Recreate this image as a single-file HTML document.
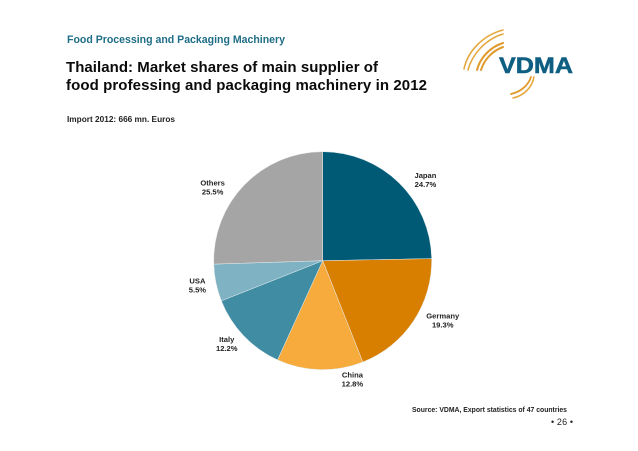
<!DOCTYPE html>
<html lang="en">
<head>
<meta charset="utf-8">
<title>Thailand: Market shares</title>
<style>
html,body{margin:0;padding:0;background:#fff;width:638px;height:451px;overflow:hidden}
svg{display:block;font-family:"Liberation Sans",sans-serif}
</style>
</head>
<body>
<svg id="chart" width="638" height="451" viewBox="0 0 638 451" xmlns="http://www.w3.org/2000/svg">
  <rect width="638" height="451" fill="#ffffff"/>
  <text x="67" y="43" font-size="10.7" font-weight="bold" fill="#1f6d86" textLength="218" lengthAdjust="spacingAndGlyphs">Food Processing and Packaging Machinery</text>
  <text x="66" y="72" font-size="15" font-weight="bold" fill="#0b0b0b" textLength="312" lengthAdjust="spacing">Thailand: Market shares of main supplier of</text>
  <text x="66" y="90" font-size="15" font-weight="bold" fill="#0b0b0b" textLength="361" lengthAdjust="spacing">food professing and packaging machinery in 2012</text>
  <text x="67" y="122" font-size="8.2" font-weight="bold" fill="#222222" textLength="108" lengthAdjust="spacingAndGlyphs">Import 2012: 666 mn. Euros</text>

  <g id="logo" fill="none" stroke-linecap="round">
    <path d="M464 69 C468 50 484 35 503 30" stroke="#e6a93f" stroke-width="1.6"/>
    <path d="M468 70 C472 54 486 39 503 34" stroke="#e6a93f" stroke-width="1.6"/>
    <path d="M477 70 C480 58 490 47 503 43" stroke="#e09a2c" stroke-width="2"/>
    <path d="M481 70 C484 60 492 51 503 47" stroke="#e09a2c" stroke-width="2"/>
    <path d="M511 94 C520 92 528 86 531 77" stroke="#e09a2c" stroke-width="1.8"/>
    <path d="M513 98 C523 96 532 88 534 77" stroke="#e6a93f" stroke-width="1.6"/>
    <text x="499" y="73" font-size="22" font-weight="bold" fill="#0f5f82" stroke="#0f5f82" stroke-width="0.5" textLength="74" lengthAdjust="spacingAndGlyphs">VDMA</text>
  </g>

  <g id="pie"></g>
  <g id="labels"></g>

  <text x="412" y="412" font-size="7.2" font-weight="bold" fill="#222222" textLength="155" lengthAdjust="spacingAndGlyphs">Source: VDMA, Export statistics of 47 countries</text>
  <text x="551" y="425" font-size="9" fill="#222222" textLength="22" lengthAdjust="spacing">• 26 •</text>
</svg>
<script>
const categories = ['Japan', 'Germany', 'China', 'Italy', 'USA', 'Others'];
const shares = [24.7, 19.3, 12.8, 12.2, 5.5, 25.5];
const printedValues = ['24.7%', '19.3%', '12.8%', '12.2%', '5.5%', '25.5%'];

const sliceColors = ['#005a75', '#d97f00', '#f7ab3d', '#408da3', '#7fb2c2', '#a5a5a5'];
const labelNudge = [[11, 12], [11, -14], [33, -13], [-1, -8], [3, -3], [-16, 17]];
const cx = 322.7, cy = 260.7, radius = 109, labelRadius = 131;
const NS = 'http://www.w3.org/2000/svg';
const total = shares.reduce(function (a, b) { return a + b; }, 0);

function angleOf(v) { return v / total * 2 * Math.PI; }
function px(r, a) { return cx + r * Math.sin(a); }
function py(r, a) { return cy - r * Math.cos(a); }

const pieGroup = document.getElementById('pie');
const labelGroup = document.getElementById('labels');
let cumulative = 0;
shares.forEach(function (v, i) {
  const a0 = angleOf(cumulative);
  const a1 = angleOf(cumulative + v);
  const mid = (a0 + a1) / 2;
  cumulative += v;

  const large = a1 - a0 > Math.PI ? 1 : 0;
  const slice = document.createElementNS(NS, 'path');
  slice.setAttribute('d', 'M' + cx + ' ' + cy + ' L' + px(radius, a0) + ' ' + py(radius, a0) +
    ' A' + radius + ' ' + radius + ' 0 ' + large + ' 1 ' + px(radius, a1) + ' ' + py(radius, a1) + ' Z');
  slice.setAttribute('fill', sliceColors[i]);
  slice.setAttribute('stroke', '#e6edf0');
  slice.setAttribute('stroke-width', '0.5');
  
  
  pieGroup.appendChild(slice);

  const lx = px(labelRadius, mid) + labelNudge[i][0];
  const ly = py(labelRadius, mid) + labelNudge[i][1];

  const nameText = document.createElementNS(NS, 'text');
  nameText.setAttribute('x', lx);
  nameText.setAttribute('y', ly - 1);
  nameText.setAttribute('font-size', '7.6');
  nameText.setAttribute('font-weight', 'bold');
  nameText.setAttribute('fill', '#222222');
  nameText.setAttribute('text-anchor', 'middle');
  nameText.textContent = categories[i];
  
  
  labelGroup.appendChild(nameText);

  const valueText = document.createElementNS(NS, 'text');
  valueText.setAttribute('x', lx);
  valueText.setAttribute('y', ly + 8);
  valueText.setAttribute('font-size', '7.6');
  valueText.setAttribute('font-weight', 'bold');
  valueText.setAttribute('fill', '#222222');
  valueText.setAttribute('text-anchor', 'middle');
  valueText.textContent = printedValues[i];
  
  
  labelGroup.appendChild(valueText);
});
</script>
</body>
</html>
